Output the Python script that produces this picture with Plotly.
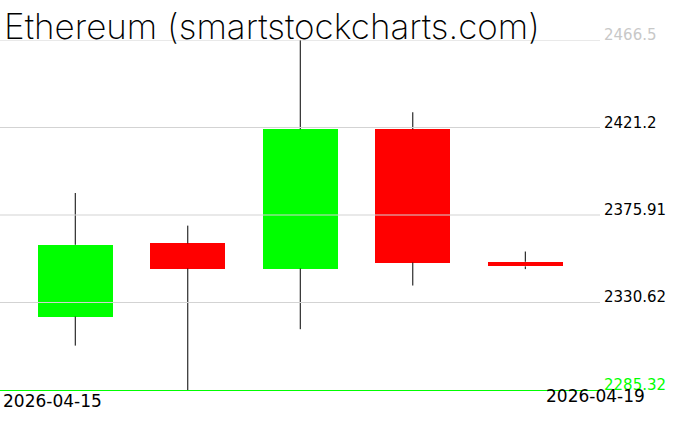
import plotly.graph_objects as go

dates = ["2026-04-15", "2026-04-16", "2026-04-17", "2026-04-18", "2026-04-19"]
opens = [2323.3, 2361.2, 2348.2, 2420.3, 2351.7]
highs = [2387.3, 2370.4, 2466.5, 2429.1, 2357.0]
lows = [2308.3, 2285.32, 2316.8, 2339.4, 2347.9]
closes = [2360.5, 2348.2, 2420.3, 2351.3, 2349.3]

tick_vals = [2285.32, 2330.62, 2375.91, 2421.2, 2466.5]
tick_text = ["2285.32", "2330.62", "2375.91", "2421.2", "2466.5"]
tick_colors = ["#00ff00", "#000000", "#000000", "#000000", "#c8c8c8"]

title_text = "Ethereum (smartstockcharts.com)"

UP = "#00ff00"
DOWN = "#ff0000"

fig = go.Figure()

# wicks (upper and lower segments, so they do not show through bodies)
wx, wy = [], []
for d, o, h, l, c in zip(dates, opens, highs, lows, closes):
    top = max(o, c)
    bot = min(o, c)
    wx += [d, d, None, d, d, None]
    wy += [h, top, None, bot, l, None]
fig.add_trace(go.Scatter(x=wx, y=wy, mode="lines",
                         line=dict(color="black", width=1),
                         hoverinfo="skip", showlegend=False, cliponaxis=False))

# bodies
base = [min(o, c) for o, c in zip(opens, closes)]
height = [abs(c - o) for o, c in zip(opens, closes)]
colors = [UP if c >= o else DOWN for o, c in zip(opens, closes)]
fig.add_trace(go.Bar(x=dates, y=height, base=base, width=0.667,
                     marker=dict(color=colors, line=dict(width=0)),
                     showlegend=False))

shapes = []
for v in tick_vals[1:]:
    shapes.append(dict(type="line", xref="paper", yref="y", x0=0, x1=1, y0=v, y1=v,
                       line=dict(color="#d3d3d3", width=1), layer="above"))

annotations = []
for v, t, col in zip(tick_vals, tick_text, tick_colors):
    annotations.append(dict(xref="paper", yref="y", x=1, y=v, text=t, showarrow=False,
                            xanchor="left", yanchor="middle", xshift=2, yshift=5,
                            font=dict(family="DejaVu Sans", size=15, color=col)))

annotations.append(dict(xref="paper", yref="paper", x=0, y=0, text=dates[0], showarrow=False,
                        xanchor="left", yanchor="top", xshift=1, yshift=1,
                        font=dict(family="DejaVu Sans", size=17, color="black")))
annotations.append(dict(xref="paper", yref="paper", x=1.075, y=0, text=dates[-1], showarrow=False,
                        xanchor="right", yanchor="top", xshift=2, yshift=6,
                        font=dict(family="DejaVu Sans", size=17, color="black")))
annotations.append(dict(xref="paper", yref="paper", x=0, y=1, text=title_text, showarrow=False,
                        xanchor="left", yanchor="bottom", xshift=2, yshift=-9,
                        font=dict(family="Inter", size=35, color="black", weight=200)))

fig.update_layout(
    width=676, height=431,
    margin=dict(l=0, r=76, t=40, b=41),
    paper_bgcolor="white", plot_bgcolor="white",
    xaxis=dict(type="category", range=[-0.669, 4.664], showgrid=False, showticklabels=False,
               zeroline=False, showline=True, linecolor="#00ff00", linewidth=1, ticks=""),
    yaxis=dict(range=[tick_vals[0], tick_vals[-1]], showgrid=False, showticklabels=False,
               zeroline=False, showline=False, ticks=""),
    shapes=shapes,
    annotations=annotations,
    bargap=0,
)

fig.write_html("out.html", config={"displayModeBar": False},
               post_script="document.body.style.margin='0';document.body.style.overflow='hidden';")
